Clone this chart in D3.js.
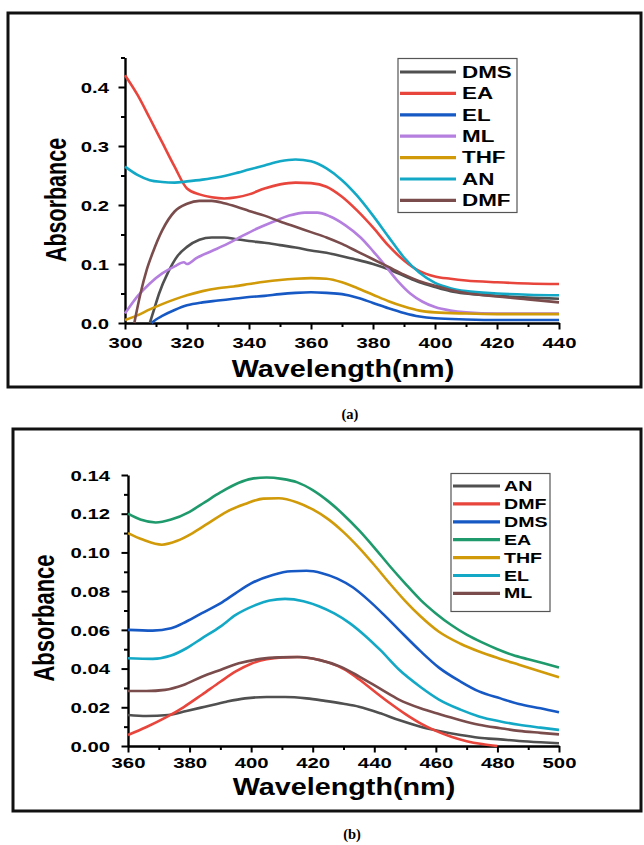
<!DOCTYPE html>
<html>
<head>
<meta charset="utf-8">
<script src="https://cdn.jsdelivr.net/npm/d3@7"></script>
<style>
  body { margin: 0; background: #fff; }
  svg { display: block; }
  text { font-family: "Liberation Sans", Arial, sans-serif; font-weight: bold; fill: #000; }
</style>
</head>
<body>
<div id="chart"></div>
<script>
// ---- panel (a) : wavelength (nm), absorbance ----
var aNames = ["DMS", "EA", "EL", "ML", "THF", "AN", "DMF"];
var aDMS = [[308,0],[309.5,0.025],[311,0.05],[314,0.087],[317,0.114],[320,0.129],[324,0.141],[328,0.145],[332,0.145],[336,0.142],[340,0.139],[345,0.136],[350,0.132],[355,0.128],[360,0.123],[365,0.119],[370,0.113],[375,0.107],[380,0.1],[385,0.091],[390,0.08],[395,0.069],[400,0.061],[405,0.054],[410,0.05],[420,0.046],[430,0.043],[440,0.041]];
var aEA = [[300,0.42],[304,0.387],[308,0.347],[312,0.306],[316,0.265],[320,0.228],[324,0.218],[328,0.213],[332,0.211],[336,0.213],[340,0.218],[345,0.228],[350,0.235],[355,0.238],[360,0.237],[365,0.231],[370,0.214],[375,0.19],[380,0.162],[385,0.131],[390,0.106],[395,0.088],[400,0.079],[405,0.075],[410,0.072],[420,0.069],[430,0.067],[440,0.066]];
var aEL = [[308.5,0],[310,0.006],[312,0.012],[316,0.022],[320,0.03],[325,0.035],[330,0.038],[335,0.041],[340,0.044],[345,0.046],[350,0.049],[355,0.051],[360,0.052],[365,0.051],[370,0.049],[375,0.043],[380,0.034],[385,0.025],[390,0.017],[395,0.011],[400,0.008],[410,0.006],[420,0.005],[440,0.005]];
var aML = [[300,0.016],[304,0.045],[308,0.067],[312,0.084],[316,0.096],[319,0.103],[320,0.1],[323,0.11],[328,0.122],[333,0.134],[338,0.148],[343,0.161],[348,0.172],[353,0.182],[358,0.187],[362,0.187],[366,0.181],[371,0.166],[376,0.145],[380,0.122],[384,0.097],[388,0.071],[392,0.05],[396,0.036],[400,0.027],[405,0.021],[410,0.018],[420,0.016],[440,0.016]];
var aTHF = [[300,0.005],[304,0.013],[308,0.023],[312,0.032],[316,0.04],[320,0.047],[325,0.054],[330,0.059],[335,0.062],[340,0.066],[345,0.07],[350,0.073],[355,0.075],[360,0.076],[365,0.075],[370,0.069],[375,0.059],[380,0.048],[385,0.037],[390,0.028],[395,0.021],[400,0.018],[410,0.016],[420,0.015],[440,0.015]];
var aAN = [[300,0.265],[304,0.251],[308,0.242],[312,0.239],[316,0.238],[320,0.24],[325,0.243],[330,0.247],[335,0.253],[340,0.26],[345,0.267],[350,0.274],[355,0.277],[360,0.274],[365,0.262],[370,0.242],[375,0.215],[380,0.182],[385,0.146],[390,0.111],[395,0.085],[400,0.068],[405,0.059],[410,0.054],[420,0.05],[430,0.048],[440,0.047]];
var aDMF = [[303,0],[305,0.05],[307,0.09],[309,0.12],[312,0.157],[316,0.189],[320,0.202],[324,0.207],[328,0.207],[332,0.203],[336,0.197],[340,0.19],[345,0.182],[350,0.172],[355,0.163],[360,0.154],[365,0.145],[370,0.134],[375,0.121],[380,0.108],[385,0.095],[390,0.082],[395,0.071],[400,0.063],[405,0.056],[410,0.051],[420,0.045],[430,0.04],[440,0.035]];
var aXTicks = [300, 320, 340, 360, 380, 400, 420, 440];
var aYTicks = [0, 0.1, 0.2, 0.3, 0.4];

// ---- panel (b) ----
var bNames = ["AN", "DMF", "DMS", "EA", "THF", "EL", "ML"];
var bAN = [[360,0.016],[366,0.0155],[373,0.016],[379,0.0181],[385,0.0203],[392,0.0229],[398,0.0246],[405,0.0253],[411,0.0253],[418,0.0246],[424,0.0233],[430,0.0218],[435,0.0203],[442,0.0169],[448,0.0134],[455,0.01],[461,0.0078],[468,0.0057],[474,0.0043],[481,0.0034],[487,0.0026],[494,0.0019],[500,0.0014]];
var bDMF = [[360,0.0057],[366,0.0098],[372,0.0145],[378,0.02],[384,0.0265],[390,0.0332],[395,0.0385],[400,0.0425],[405,0.0448],[410,0.0458],[415,0.046],[420,0.0452],[425,0.0432],[430,0.0398],[435,0.0345],[440,0.0283],[445,0.0222],[450,0.0166],[455,0.0117],[460,0.0078],[465,0.0048],[470,0.0025],[475,0.001],[480,0]];
var bDMS = [[360,0.06],[368,0.0596],[374,0.0608],[379,0.0643],[384,0.0686],[390,0.0737],[395,0.079],[400,0.084],[407,0.0884],[413,0.0903],[418,0.0905],[423,0.0893],[428,0.0865],[433,0.082],[438,0.0755],[443,0.068],[448,0.06],[455,0.049],[461,0.0405],[468,0.0333],[474,0.0282],[481,0.0246],[487,0.0217],[494,0.0195],[500,0.0174]];
var bEA = [[360,0.12],[364,0.117],[369,0.1155],[374,0.117],[380,0.121],[385,0.126],[390,0.131],[396,0.136],[400,0.138],[405,0.1387],[410,0.138],[415,0.1362],[420,0.1322],[425,0.1265],[430,0.1195],[435,0.1115],[440,0.1025],[445,0.093],[450,0.084],[455,0.0755],[460,0.0685],[465,0.0625],[470,0.0575],[475,0.0535],[480,0.05],[485,0.047],[490,0.0448],[495,0.0427],[500,0.0405]];
var bTHF = [[360,0.11],[365,0.1065],[371,0.104],[376,0.106],[381,0.11],[386,0.115],[392,0.121],[398,0.125],[404,0.1278],[409,0.128],[415,0.1258],[420,0.1222],[425,0.1172],[430,0.1105],[435,0.1025],[440,0.0935],[445,0.084],[450,0.075],[455,0.067],[461,0.059],[468,0.0528],[474,0.0488],[481,0.045],[487,0.042],[494,0.0385],[500,0.0355]];
var bEL = [[360,0.0453],[368,0.045],[374,0.0467],[379,0.0505],[384,0.0556],[390,0.0617],[395,0.0677],[401,0.0725],[406,0.0752],[411,0.076],[417,0.0748],[422,0.0722],[427,0.0685],[432,0.0635],[437,0.057],[442,0.0495],[448,0.0395],[455,0.0305],[461,0.024],[468,0.0188],[474,0.0153],[481,0.0127],[487,0.011],[494,0.0095],[500,0.0083]];
var bML = [[360,0.0284],[366,0.0284],[372,0.029],[378,0.0315],[384,0.0358],[390,0.0393],[396,0.0427],[403,0.045],[409,0.0458],[416,0.046],[422,0.0445],[429,0.041],[435,0.036],[442,0.0295],[448,0.024],[455,0.0195],[461,0.0165],[468,0.0133],[474,0.011],[481,0.0092],[487,0.0078],[494,0.0068],[500,0.006]];
var bXTicks = [360, 380, 400, 420, 440, 460, 480, 500];
var bYTicks = [0, 0.02, 0.04, 0.06, 0.08, 0.10, 0.12, 0.14];

var colors = {
  grey: "#505050", red: "#e8453c", blue: "#1658c4", purple: "#b47fde",
  gold: "#d09a08", cyan: "#13a9c6", brown: "#7a4c4c", green: "#1f9a6c"
};

var svg = d3.select("#chart").append("svg")
  .attr("width", 644)
  .attr("height", 845);

// text in the source figure is stretched sideways
function stretch(sel, tx, ty, sx, rot) {
  sel.attr("x", 0).attr("y", 0).attr("dy", null)
    .attr("transform", "translate(" + tx + "," + ty + ") scale(" + sx + ",1)" + (rot ? " rotate(" + rot + ")" : ""));
}

function drawPanel(o) {
  var g = svg.append("g");

  g.append("rect")
    .attr("x", o.box[0]).attr("y", o.box[1])
    .attr("width", o.box[2] - o.box[0]).attr("height", o.box[3] - o.box[1])
    .attr("fill", "none").attr("stroke", "#111").attr("stroke-width", 3);

  var x = d3.scaleLinear().domain(o.xDomain).range([o.left, o.right]);
  var y = d3.scaleLinear().domain(o.yDomain).range([o.bottom, o.top]);

  // minor ticks
  g.append("g").attr("transform", "translate(0," + o.bottom + ")")
    .call(d3.axisBottom(x).tickValues(d3.range(o.xDomain[0] + 10, o.xDomain[1], 20)).tickSize(4).tickFormat(""))
    .call(function(s) { s.select(".domain").remove(); s.selectAll("line").attr("stroke-width", 2); });
  g.append("g").attr("transform", "translate(" + o.left + ",0)")
    .call(d3.axisLeft(y).tickValues(o.yMinor).tickSize(4).tickFormat(""))
    .call(function(s) { s.select(".domain").remove(); s.selectAll("line").attr("stroke-width", 2); });

  var xa = g.append("g").attr("transform", "translate(0," + o.bottom + ")")
    .call(d3.axisBottom(x).tickValues(o.xTicks).tickSize(6.5).tickSizeOuter(0).tickFormat(d3.format("d")));
  var ya = g.append("g").attr("transform", "translate(" + o.left + ",0)")
    .call(d3.axisLeft(y).tickValues(o.yTicks).tickSize(6.5).tickSizeOuter(0).tickFormat(d3.format(o.yFormat)));

  [xa, ya].forEach(function(a) {
    a.attr("font-size", null).attr("font-family", null);
    a.select(".domain").attr("stroke-width", 2.4);
    a.selectAll(".tick line").attr("stroke-width", 2);
    a.selectAll(".tick text").attr("font-size", 14.5);
  });
  xa.selectAll(".tick text").call(stretch, 0, o.xLabelDy, 1.4);
  ya.selectAll(".tick text").call(stretch, -o.yLabelDx, 5.2, 1.4);

  var line = d3.line()
    .x(function(d) { return x(d[0]); })
    .y(function(d) { return y(d[1]); })
    .curve(d3.curveMonotoneX);

  g.append("g").selectAll("path")
    .data(o.series)
    .enter()
    .append("path")
    .attr("d", function(d) { return line(d); })
    .attr("fill", "none")
    .attr("stroke", function(d, i) { return o.colors[i]; })
    .attr("stroke-width", 2.6)
    .attr("stroke-linejoin", "round");

  // axis titles
  g.append("text").attr("text-anchor", "middle").attr("font-size", 23)
    .text("Wavelength(nm)").call(stretch, o.xTitle[0], o.xTitle[1], 1.25);
  g.append("text").attr("text-anchor", "middle").attr("font-size", o.yTitleSize)
    .text("Absorbance").call(stretch, o.yTitle[0], o.yTitle[1], o.yTitleSx, -90);

  // legend
  var L = o.legend;
  g.append("rect")
    .attr("x", L.box[0]).attr("y", L.box[1])
    .attr("width", L.box[2] - L.box[0]).attr("height", L.box[3] - L.box[1])
    .attr("fill", "#fff").attr("stroke", "#555").attr("stroke-width", 1.2);
  var items = g.append("g").selectAll("g")
    .data(o.names)
    .enter()
    .append("g")
    .attr("transform", function(d, i) { return "translate(0," + (L.y0 + i * L.step) + ")"; });
  items.append("line")
    .attr("x1", L.x1).attr("x2", L.x2)
    .attr("stroke", function(d, i) { return o.colors[i]; })
    .attr("stroke-width", 3.2);
  items.append("text")
    .attr("font-size", L.font)
    .text(function(d) { return d; })
    .call(stretch, L.tx, L.font * 0.36, 1.4);

  g.append("text").attr("text-anchor", "middle")
    .attr("font-size", 14.5)
    .style("font-family", "'Liberation Serif', 'Times New Roman', serif")
    .attr("x", o.caption[0]).attr("y", o.caption[1])
    .text(o.captionText);
}

drawPanel({
  box: [8, 13, 641, 387],
  left: 125, right: 559, top: 57.5, bottom: 323,
  xDomain: [300, 440], yDomain: [0, 0.45],
  xTicks: aXTicks, yTicks: aYTicks,
  yMinor: [0.05, 0.15, 0.25, 0.35, 0.45], yFormat: ".1f",
  xLabelDy: 24.5, yLabelDx: 16,
  xTitle: [343, 377], yTitle: [66, 200], yTitleSize: 21.5, yTitleSx: 1.4,
  names: aNames,
  series: [aDMS, aEA, aEL, aML, aTHF, aAN, aDMF],
  colors: [colors.grey, colors.red, colors.blue, colors.purple, colors.gold, colors.cyan, colors.brown],
  legend: { box: [398, 58.5, 517, 212.5], x1: 400, x2: 456, tx: 462, y0: 72, step: 21.4, font: 16 },
  caption: [350, 419], captionText: "(a)"
});

drawPanel({
  box: [13, 429, 641, 811],
  left: 128, right: 559, top: 475, bottom: 746,
  xDomain: [360, 500], yDomain: [0, 0.14],
  xTicks: bXTicks, yTicks: bYTicks,
  yMinor: d3.range(0.01, 0.14, 0.02), yFormat: ".2f",
  xLabelDy: 21.5, yLabelDx: 18,
  xTitle: [344, 795], yTitle: [54, 618], yTitleSize: 22, yTitleSx: 1.35,
  names: bNames,
  series: [bAN, bDMF, bDMS, bEA, bTHF, bEL, bML],
  colors: [colors.grey, colors.red, colors.blue, colors.green, colors.gold, colors.cyan, colors.brown],
  legend: { box: [451, 473.5, 550, 611.5], x1: 453, x2: 500, tx: 504, y0: 486, step: 17.9, font: 14 },
  caption: [352, 839], captionText: "(b)"
});
</script>
</body>
</html>
